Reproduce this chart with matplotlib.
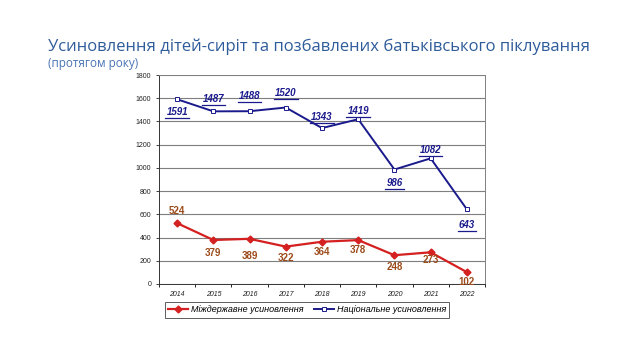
import matplotlib
matplotlib.use("Agg")
import matplotlib.pyplot as plt
from matplotlib.lines import Line2D

years = ["2014", "2015", "2016", "2017", "2018", "2019", "2020", "2021", "2022"]
intl = [524, 379, 389, 322, 364, 378, 248, 273, 102]
national = [1591, 1487, 1488, 1520, 1343, 1419, 986, 1082, 643]

# label offsets in pixels (positive = above the point)
intl_off = [12, -13, -17, -11, -10, -10, -12, -8, -10]
nat_off = [-13, 12, 15, 15, 11, 8, -13, 8, -16]

title = "Усиновлення дітей-сиріт та позбавлених батьківського піклування"
subtitle = "(протягом року)"

fig = plt.figure(figsize=(6.4, 3.6), dpi=100)
fig.text(48 / 640, 1 - 47 / 360, title, fontsize=12, color="#2E5C9A",
         family="Open Sans", va="center", ha="left")
fig.text(48 / 640, 1 - 63 / 360, subtitle, fontsize=8.5, color="#4A74B4",
         family="Open Sans", va="center", ha="left")

ax = fig.add_axes([159 / 640, 1 - 284 / 360, 326 / 640, 209 / 360])
x = range(len(years))

ax.plot(x, intl, color="#D42020", lw=1.6, marker="D", ms=3.5,
        markerfacecolor="#D42020", markeredgecolor="#D42020", zorder=3)
ax.plot(x, national, color="#1A1A8C", lw=1.4, marker="s", ms=2.5,
        markerfacecolor="white", markeredgecolor="#1A1A8C", mew=0.7, zorder=3)

for i, v in enumerate(intl):
    ax.annotate(str(v), (i, v), xytext=(0, intl_off[i]), textcoords="offset pixels",
                ha="center", va="center", fontsize=7, fontweight="bold",
                color="#9C4A1A", family="Liberation Sans")

nat_texts = []
for i, v in enumerate(national):
    t = ax.annotate(str(v), (i, v), xytext=(0, nat_off[i]), textcoords="offset pixels",
                    ha="center", va="center", fontsize=7, fontweight="bold",
                    fontstyle="italic", color="#1A1A8C", family="Liberation Sans")
    nat_texts.append(t)

ax.set_xlim(-0.5, len(years) - 0.5)
ax.set_ylim(0, 1800)
ax.set_yticks(range(0, 1801, 200))
ax.set_xticks(x)
ax.set_xticklabels(years, fontstyle="italic")
ax.tick_params(labelsize=5, colors="#222222", length=2, width=0.6)
for lab in ax.get_xticklabels() + ax.get_yticklabels():
    lab.set_family("Liberation Sans")
ax.set_xticks([i - 0.5 for i in range(len(years) + 1)], minor=True)
ax.tick_params(axis="x", which="major", length=0, pad=5)
ax.tick_params(axis="x", which="minor", length=2, width=0.6, direction="out")
ax.grid(axis="y", color="#7F7F7F", lw=0.8)
ax.set_axisbelow(True)
for s in ax.spines.values():
    s.set_color("#808080")
    s.set_linewidth(0.7)
ax.spines["left"].set_color("#333333")
ax.spines["bottom"].set_color("#333333")

handles = [
    Line2D([], [], color="#D42020", lw=1.6, marker="D", ms=3.5),
    Line2D([], [], color="#1A1A8C", lw=1.4, marker="s", ms=2.5,
           markerfacecolor="white", mew=0.7),
]
leg = fig.legend(handles, ["Міждержавне усиновлення", "Національне усиновлення"],
                 loc="center", bbox_to_anchor=(307 / 640, 1 - 310 / 360), ncol=2,
                 fancybox=False, edgecolor="#333333", handlelength=2.2,
                 handletextpad=0.3, columnspacing=1.2, borderpad=0.35,
                 prop={"family": "Liberation Sans", "size": 6.5, "style": "italic"})
leg.get_frame().set_linewidth(0.7)

# underline the national labels
fig.canvas.draw()
inv = fig.transFigure.inverted()
for t in nat_texts:
    bb = t.get_window_extent()
    (x0, y0), (x1, _) = inv.transform([(bb.x0 - 1, bb.y0 - 1), (bb.x1 + 1, bb.y0)])
    fig.add_artist(Line2D([x0, x1], [y0, y0], color="#1A1A8C", lw=0.9))

fig.savefig("out.png", dpi=100)
